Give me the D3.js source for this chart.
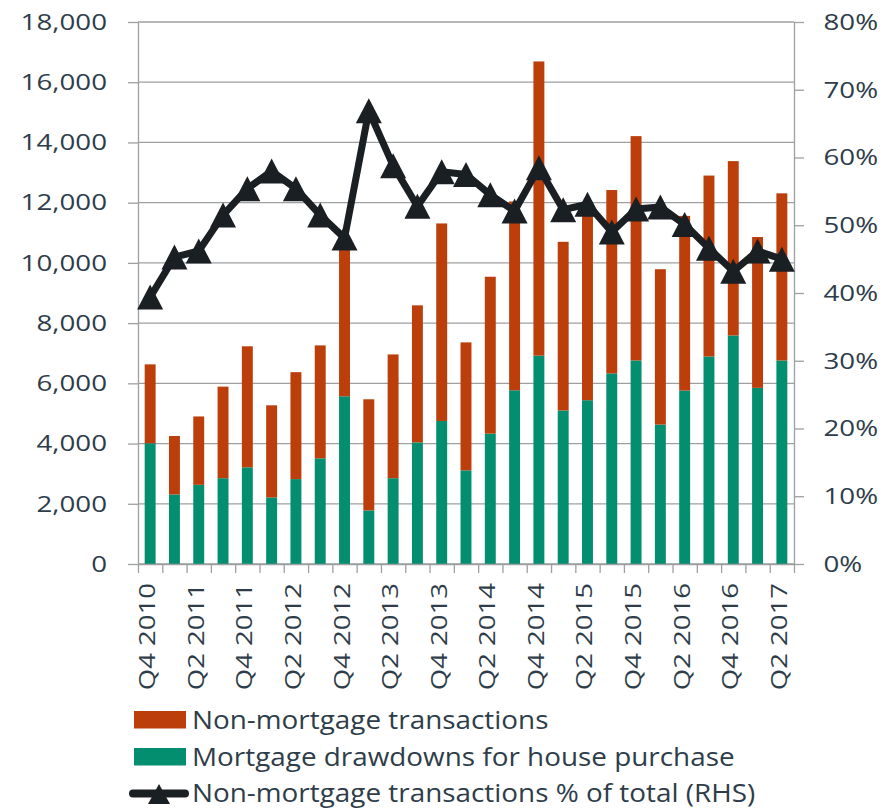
<!DOCTYPE html>
<html>
<head>
<meta charset="utf-8">
<script src="https://cdn.jsdelivr.net/npm/d3@7"></script>
<style>
  html, body { margin: 0; padding: 0; background: #ffffff; }
  svg { display: block; }
  text { font-family: "Open Sans", "Noto Sans", sans-serif; fill: #2e3d49; }
</style>
</head>
<body>
<svg id="chart" width="893" height="809"></svg>
<script>
// Quarterly transactions, Q4 2010 – Q2 2017
const quarters = [
  "Q4 2010", "Q1 2011", "Q2 2011", "Q3 2011", "Q4 2011", "Q1 2012", "Q2 2012",
  "Q3 2012", "Q4 2012", "Q1 2013", "Q2 2013", "Q3 2013", "Q4 2013", "Q1 2014",
  "Q2 2014", "Q3 2014", "Q4 2014", "Q1 2015", "Q2 2015", "Q3 2015", "Q4 2015",
  "Q1 2016", "Q2 2016", "Q3 2016", "Q4 2016", "Q1 2017", "Q2 2017"
];

// Mortgage drawdowns for house purchase (count)
const mortgageDrawdowns = [
  4010, 2310, 2630, 2850, 3210, 2210, 2820, 3510, 5570, 1780, 2850, 4040, 4750, 3110,
  4330, 5770, 6920, 5100, 5440, 6330, 6760, 4630, 5760, 6890, 7590, 5850, 6760
];

// Non-mortgage transactions (count)
const nonMortgage = [
  2620, 1940, 2270, 3040, 4020, 3060, 3550, 3750, 5160, 3690, 4110, 4550, 6560, 4250,
  5210, 6270, 9770, 5600, 6150, 6090, 7450, 5160, 5800, 6010, 5790, 5010, 5550
];

// Non-mortgage transactions as % of total (right-hand scale)
const nonMortgageShare = [
  39.4, 45.3, 46.2, 51.5, 55.4, 58.0, 55.4, 51.5, 48.1, 66.9, 58.8, 52.8, 57.9, 57.5,
  54.5, 52.1, 58.5, 52.3, 53.1, 49.0, 52.4, 52.7, 50.1, 46.6, 43.2, 46.2, 45.0
];

const leftTicks = [0, 2000, 4000, 6000, 8000, 10000, 12000, 14000, 16000, 18000];
const rightTicks = [0, 10, 20, 30, 40, 50, 60, 70, 80];

const seriesNames = [
  "Non-mortgage transactions",
  "Mortgage drawdowns for house purchase",
  "Non-mortgage transactions % of total (RHS)"
];

const COL_NON = "#bb3e0b";
const COL_MORT = "#038f6f";
const COL_LINE = "#1a1f24";
const COL_GRID = "#9d9fa1";

const svg = d3.select("#chart");
const plot = { left: 138, right: 794, top: 22, bottom: 564 };

const x = d3.scaleBand().domain(quarters).range([plot.left, plot.right]).paddingInner(0).paddingOuter(0);
const yL = d3.scaleLinear().domain([0, 18000]).range([plot.bottom, plot.top]);
const yR = d3.scaleLinear().domain([0, 80]).range([plot.bottom, plot.top]);
const boundary = d3.scaleLinear().domain([0, quarters.length]).range([plot.left, plot.right]);

// horizontal gridlines
svg.append("g")
  .selectAll("line")
  .data(leftTicks)
  .join("line")
  .attr("x1", plot.left).attr("x2", plot.right)
  .attr("y1", d => yL(d)).attr("y2", d => yL(d))
  .attr("stroke", COL_GRID).attr("stroke-width", 1.3);

// stacked bars
const rows = quarters.map((q, i) => ({ q, mortgage: mortgageDrawdowns[i], non: nonMortgage[i] }));
const stack = d3.stack().keys(["mortgage", "non"])(rows);
const colours = { mortgage: COL_MORT, non: COL_NON };
const barW = x.bandwidth() * 0.45;

svg.append("g")
  .selectAll("g")
  .data(stack)
  .join("g")
  .attr("fill", d => colours[d.key])
  .selectAll("rect")
  .data(d => d)
  .join("rect")
  .attr("x", d => x(d.data.q) + (x.bandwidth() - barW) / 2)
  .attr("width", barW)
  .attr("y", d => yL(d[1]))
  .attr("height", d => yL(d[0]) - yL(d[1]));

// axes
const tickFont = 22, tickStretch = 1.26;

const gL = svg.append("g")
  .attr("transform", `translate(${plot.left},0)`)
  .call(d3.axisLeft(yL).tickValues(leftTicks).tickFormat(d3.format(",")).tickSize(10).tickSizeOuter(0).tickPadding(21));
gL.selectAll("text")
  .attr("font-size", tickFont)
  .attr("x", -31 / tickStretch)
  .attr("dy", "0.33em")
  .attr("transform", `scale(${tickStretch},1)`);

const gR = svg.append("g")
  .attr("transform", `translate(${plot.right},0)`)
  .call(d3.axisRight(yR).tickValues(rightTicks).tickFormat(d => d + "%").tickSize(10).tickSizeOuter(0).tickPadding(19));
gR.selectAll("text")
  .attr("font-size", tickFont)
  .attr("x", 29.5 / tickStretch)
  .attr("dy", "0.33em")
  .attr("transform", `scale(${tickStretch},1)`);

// category boundary ticks along the bottom
svg.append("g")
  .attr("transform", `translate(0,${plot.bottom})`)
  .call(d3.axisBottom(boundary).tickValues(d3.range(quarters.length + 1)).tickFormat("").tickSize(9).tickSizeOuter(0));

// rotated quarter labels, every second quarter
const xFont = 21, xStretch = 1.31;
const gX = svg.append("g")
  .attr("transform", `translate(0,${plot.bottom})`)
  .call(d3.axisBottom(x).tickValues(quarters.filter((q, i) => i % 2 === 0)).tickSize(0));
gX.select(".domain").remove();
gX.selectAll("text")
  .attr("font-size", xFont)
  .attr("x", 0).attr("y", 0).attr("dy", 0)
  .attr("text-anchor", "end")
  .attr("transform", `translate(5,19) rotate(-90) scale(${xStretch},1)`);

svg.selectAll(".domain, .tick line").attr("stroke", COL_GRID).attr("stroke-width", 1.3);

// share line with triangle markers
const line = d3.line()
  .x((d, i) => x(quarters[i]) + x.bandwidth() / 2)
  .y(d => yR(d));

svg.append("path")
  .datum(nonMortgageShare)
  .attr("d", line)
  .attr("fill", "none")
  .attr("stroke", COL_LINE)
  .attr("stroke-width", 7)
  .attr("stroke-linejoin", "round");

const tri = (w, h) => `M0,${-h / 2}L${w / 2},${h / 2}L${-w / 2},${h / 2}Z`;

svg.append("g")
  .selectAll("path")
  .data(nonMortgageShare)
  .join("path")
  .attr("transform", (d, i) => `translate(${x(quarters[i]) + x.bandwidth() / 2},${yR(d)})`)
  .attr("d", tri(26, 25))
  .attr("fill", COL_LINE);

// legend
const legend = svg.append("g");
const legFont = 25, legStretch = 1.115;
const legTextX = 192;
const legBase = [729, 766, 802];

legend.append("rect").attr("x", 134).attr("y", 711).attr("width", 52).attr("height", 17.5).attr("fill", COL_NON);
legend.append("rect").attr("x", 134).attr("y", 748).attr("width", 52).attr("height", 17.5).attr("fill", COL_MORT);
legend.append("line")
  .attr("x1", 133).attr("x2", 185).attr("y1", 793.5).attr("y2", 793.5)
  .attr("stroke", COL_LINE).attr("stroke-width", 8).attr("stroke-linecap", "round");
legend.append("path")
  .attr("transform", "translate(159,794)")
  .attr("d", tri(22, 20))
  .attr("fill", COL_LINE);

legend.selectAll("text")
  .data(seriesNames)
  .join("text")
  .attr("font-size", legFont)
  .attr("transform", (d, i) => `translate(${legTextX},${legBase[i]}) scale(${legStretch},1)`)
  .text(d => d);
</script>
</body>
</html>
